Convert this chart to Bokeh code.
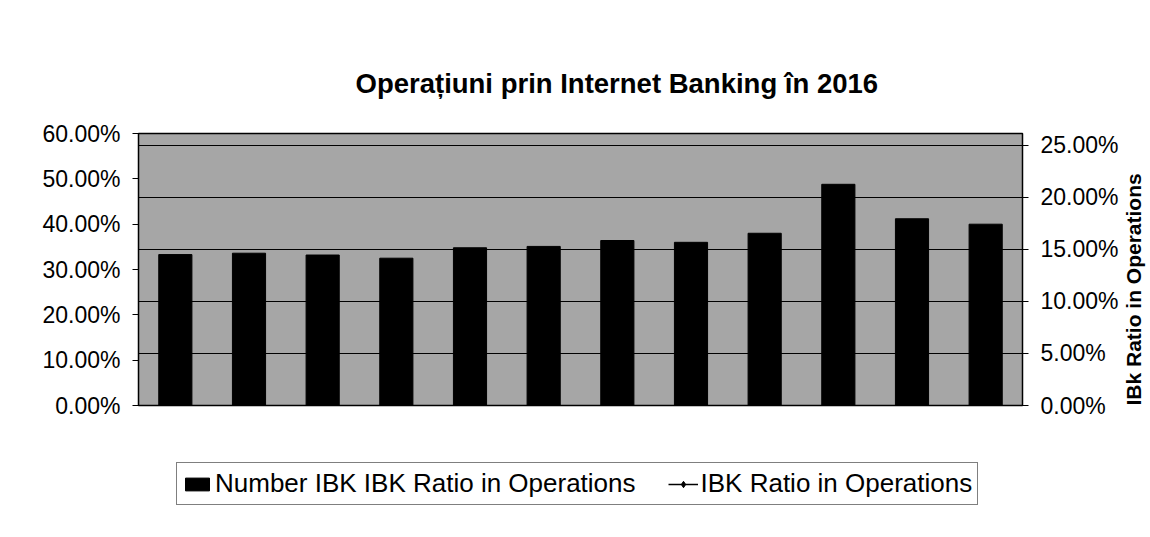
import math
from bokeh.plotting import figure
from bokeh.layouts import column
from bokeh.models import (Range1d, LinearAxis, NumeralTickFormatter, SingleIntervalTicker,
                          Grid, Legend, LegendItem, ColumnDataSource)
from bokeh.embed import file_html
from bokeh.resources import INLINE

# ---- data ----
months = ["Ian", "Feb", "Mar", "Apr", "Mai", "Iun", "Iul", "Aug", "Sep", "Oct", "Noi", "Dec"]
number_ibk_ratio = [0.333, 0.336, 0.332, 0.325, 0.348, 0.351, 0.364, 0.360, 0.380, 0.488, 0.412, 0.400]
# second series is listed in the legend but shows no visible points in the picture
ibk_ratio = [float("nan")] * 12

title_text = "Operațiuni prin Internet Banking în 2016"
bar_label = "Number IBK IBK Ratio in Operations"
line_label = "IBK Ratio in Operations"
right_axis_title = "IBk Ratio in Operations"

FONT = "Liberation Sans"

p = figure(x_range=months, y_range=Range1d(0, 0.6001), frame_width=884, frame_height=272,
           output_backend="svg", toolbar_location=None,
           min_border_left=138, min_border_right=128, min_border_top=133, min_border_bottom=40)
p.extra_y_ranges = {"right": Range1d(0, 0.2615)}

p.background_fill_color = "#a6a6a6"
p.border_fill_color = "white"
p.outline_line_color = "black"
p.outline_line_width = 1.5

# title
p.title.text = title_text
p.title.align = "left"
p.title.offset = 217
p.title.standoff = 70
p.title.text_font = FONT
p.title.text_font_style = "bold"
p.title.text_font_size = "27.5px"
p.title.text_color = "black"

# x axis hidden (no category labels in the picture)
p.xaxis.visible = False
p.xgrid.visible = False
p.ygrid.visible = False

# left axis
yl = p.yaxis[0]
yl.ticker = SingleIntervalTicker(interval=0.10, num_minor_ticks=0)
yl.formatter = NumeralTickFormatter(format="0.00%")
yl.major_label_text_font = FONT
yl.major_label_text_font_size = "23px"
yl.major_label_text_color = "black"
yl.major_tick_out = 6
yl.major_tick_in = 0
yl.minor_tick_out = 0
yl.minor_tick_in = 0
yl.major_label_standoff = 12
yl.axis_line_color = "black"
yl.major_tick_line_color = "black"

# right axis
yr = LinearAxis(y_range_name="right",
                ticker=SingleIntervalTicker(interval=0.05, num_minor_ticks=0),
                formatter=NumeralTickFormatter(format="0.00%"),
                axis_label=right_axis_title)
yr.major_label_text_font = FONT
yr.major_label_text_font_size = "23px"
yr.major_label_text_color = "black"
yr.major_tick_out = 6
yr.major_tick_in = 0
yr.minor_tick_out = 0
yr.minor_tick_in = 0
yr.major_label_standoff = 12
yr.axis_label_text_font = FONT
yr.axis_label_text_font_style = "bold"
yr.axis_label_text_font_size = "21px"
yr.axis_label_text_color = "black"
yr.axis_label_standoff = 12
yr.axis_label_orientation = math.pi / 2
if "axis_label_align" in yr.properties():
    for a in ("start", "left"):
        try:
            yr.axis_label_align = a
            break
        except Exception:
            pass
yr.axis_line_color = "black"
p.add_layout(yr, "right")

# gridlines follow the right axis
grid = Grid(dimension=1, ticker=SingleIntervalTicker(interval=0.05, num_minor_ticks=0),
            y_range_name="right", grid_line_color="black", grid_line_width=1.2)
p.add_layout(grid)

src = ColumnDataSource(dict(month=months, value=number_ibk_ratio))
line_src = ColumnDataSource(dict(month=months, value=ibk_ratio))


def fig_range(fig):
    return "right" if "right" in fig.extra_y_ranges else "default"


def add_series(fig):
    b = fig.vbar(x="month", top="value", width=0.45, source=src,
                 fill_color="black", line_color="black")
    l = fig.line(x="month", y="value", source=line_src, y_range_name=fig_range(fig),
                 line_color="black", line_width=1.5)
    s = fig.scatter(x="month", y="value", source=line_src, y_range_name=fig_range(fig),
                    marker="diamond", size=16, fill_color="black", line_color="black")
    return b, l, s


add_series(p)

# ---- legend strip below the chart (its own canvas so the box is not clipped) ----
q = figure(x_range=months, y_range=Range1d(1, 2), width=1150, height=92,
           output_backend="svg", toolbar_location=None,
           min_border_left=0, min_border_right=0, min_border_top=0, min_border_bottom=0)
q.axis.visible = False
q.xgrid.visible = False
q.ygrid.visible = False
q.outline_line_color = None
q.background_fill_color = "white"
q.border_fill_color = "white"
qb, ql, qs = add_series(q)   # legend proxies (outside this strip's visible range)

legend = Legend(items=[LegendItem(label=bar_label, renderers=[qb]),
                       LegendItem(label=line_label, renderers=[ql, qs])],
                orientation="horizontal", location=(38, 32),
                border_line_color="black", border_line_width=1.2,
                background_fill_color="white", background_fill_alpha=1,
                label_text_font=FONT, label_text_font_size="26px", label_text_color="black",
                glyph_width=30, glyph_height=16, spacing=32, padding=5,
                label_standoff=3, margin=0)
q.add_layout(legend)

open("out.html", "w").write(file_html(column(p, q, spacing=0), INLINE))
